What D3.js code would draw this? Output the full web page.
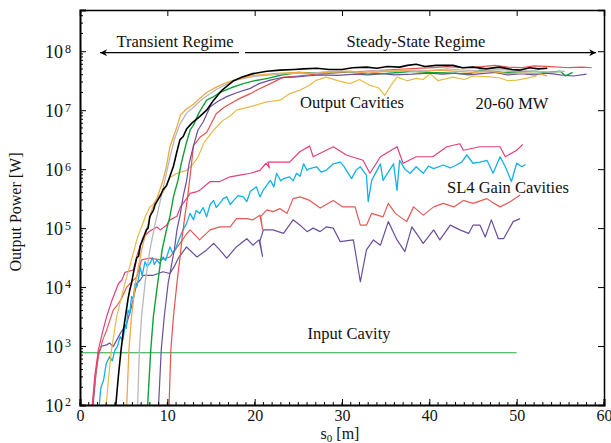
<!DOCTYPE html>
<html>
<head>
<meta charset="utf-8">
<script src="https://cdn.jsdelivr.net/npm/d3@7"></script>
<style>
  body { margin: 0; background: #fff; }
  text { font-family: "Liberation Serif", "Times New Roman", serif; fill: #111; }
</style>
</head>
<body>
<div id="chart"></div>
<script>
// values: each point is [s0 in m, log10 of power in W]
var outBlack = [[4.1,2.0],[4.4,2.5],[4.7,2.93],[5.0,3.3],[5.2,3.5],[5.5,3.8],[5.7,3.95],[5.9,4.07],[6.2,4.3],[6.5,4.5],[6.7,4.52],[6.9,4.7],[7.3,4.85],[7.6,4.97],[7.8,5.0],[8.0,5.2],[8.4,5.3],[8.6,5.4],[8.8,5.45],[9.2,5.55],[9.5,5.65],[9.9,5.72],[10.3,5.88],[10.7,6.05],[11.1,6.3],[11.45,6.5],[11.8,6.55],[12.2,6.68],[12.8,6.78],[13.7,6.89],[14.5,7.0],[15.3,7.17],[16.2,7.33],[17.6,7.5],[18.5,7.56],[19.8,7.62],[21.4,7.66],[22.9,7.68],[24.5,7.69],[25.6,7.7],[27.1,7.71],[28.5,7.69],[30,7.69],[31.2,7.72],[32.8,7.73],[34,7.71],[35.2,7.74],[36.6,7.73],[37.5,7.76],[38.5,7.78],[39.5,7.74],[40.8,7.76],[42.7,7.76],[43.8,7.72],[45,7.73],[46.5,7.7],[48,7.73],[49.5,7.69],[50.4,7.68],[51.5,7.72],[52.5,7.7],[53.5,7.71]];
var outOrange = [[5.35,2.0],[5.6,2.93],[5.9,3.5],[6.35,4.07],[7.05,4.63],[7.6,4.95],[8.2,5.3],[8.8,5.5],[9.5,5.81],[9.9,6.05],[10.3,6.38],[10.7,6.55],[11.1,6.72],[11.5,6.92],[12.2,7.02],[13.0,7.1],[13.7,7.2],[14.5,7.3],[15.6,7.39],[16.5,7.45],[17.6,7.51],[19.8,7.59],[21.5,7.61],[23,7.63],[25,7.64],[27,7.62],[29,7.65],[31,7.66],[33,7.63],[35,7.66],[37,7.67],[39,7.65],[41,7.68],[43,7.66],[45,7.64],[47,7.66],[49,7.62],[51,7.63],[52.5,7.62],[53.5,7.58]];
var outGray = [[6.6,2.0],[6.8,2.93],[7.05,3.5],[7.45,4.07],[8.0,4.63],[8.5,5.0],[9.1,5.4],[9.7,5.8],[10.3,6.2],[10.8,6.5],[11.4,6.75],[12.2,6.95],[13.0,7.05],[13.7,7.15],[14.6,7.25],[15.6,7.35],[17.6,7.5],[19.8,7.57],[22,7.6],[24,7.63],[26,7.62],[28,7.65],[30,7.66],[32,7.64],[34,7.67],[36,7.66],[38,7.68],[40,7.67],[42,7.7],[44,7.68],[46,7.66],[48,7.69],[50,7.67],[52,7.66],[54,7.64],[55.5,7.66]];
var outGreen = [[7.75,2.0],[8.1,2.93],[8.4,3.5],[8.9,4.07],[9.4,4.63],[9.9,4.97],[10.3,5.2],[10.7,5.53],[11.2,5.8],[11.6,6.1],[12.1,6.4],[12.6,6.66],[13.0,6.75],[13.6,6.95],[14.5,7.17],[15.2,7.22],[16,7.3],[17.3,7.38],[18.7,7.45],[20,7.5],[21.5,7.54],[23.2,7.6],[25,7.64],[27,7.63],[29,7.65],[30.9,7.65],[32.5,7.62],[34.7,7.62],[36.5,7.64],[38,7.66],[40,7.64],[42,7.63],[43.5,7.62],[44.7,7.62],[45.8,7.68],[47,7.66],[48.5,7.64],[50.4,7.65],[52,7.66],[53.5,7.64],[55,7.66],[55.6,7.58],[56.4,7.64]];
var outPurple = [[9.0,2.0],[9.3,2.93],[9.65,3.5],[10.1,4.07],[10.8,4.63],[11.1,4.97],[11.5,5.25],[11.8,5.53],[12.2,5.8],[12.5,6.1],[13.0,6.4],[13.5,6.66],[14.1,6.8],[14.9,7.06],[15.8,7.15],[16.8,7.23],[18,7.3],[19.5,7.37],[20.5,7.45],[21.8,7.51],[23,7.55],[24.5,7.56],[26,7.58],[27.5,7.6],[29.5,7.59],[31.5,7.61],[33,7.6],[34.7,7.62],[36,7.6],[38,7.61],[40,7.63],[41.5,7.61],[43,7.63],[44.5,7.6],[46,7.62],[47.5,7.64],[49,7.6],[50.5,7.62],[52,7.6],[53.5,7.63],[55,7.6],[56.5,7.58],[58,7.61]];
var outRed = [[10.2,2.0],[10.4,2.93],[10.7,3.5],[11.1,4.07],[11.45,4.5],[11.7,4.85],[12.0,5.2],[12.3,5.5],[12.7,6.0],[13.0,6.4],[13.8,6.55],[14.5,6.62],[15.6,6.94],[16.5,7.05],[17.2,7.11],[18.3,7.2],[19.5,7.28],[20.5,7.36],[21.8,7.45],[23.3,7.56],[25,7.58],[27,7.61],[29,7.63],[30.9,7.65],[32.5,7.66],[34,7.67],[36,7.69],[38.5,7.71],[40.5,7.72],[42,7.74],[44,7.72],[46,7.74],[47.5,7.76],[49,7.73],[50.5,7.72],[52,7.75],[54,7.74],[56,7.72],[57.5,7.73],[58.6,7.72]];
var outYellow = [[3.0,2.0],[3.3,2.5],[3.6,2.93],[4.2,3.5],[4.7,3.8],[5.15,4.07],[5.6,4.3],[6.2,4.63],[6.6,4.85],[7.0,5.0],[7.5,5.2],[8.0,5.36],[8.4,5.4],[9.0,5.55],[9.5,5.6],[10.3,5.86],[11.0,5.92],[11.5,5.95],[12.2,5.98],[12.7,6.04],[13.5,6.2],[14.2,6.45],[15.3,6.66],[16.4,6.83],[17.2,6.9],[17.9,7.0],[19.5,7.06],[21.4,7.14],[22.9,7.17],[24,7.28],[25.2,7.34],[26.2,7.42],[27.1,7.51],[28.2,7.56],[29.5,7.5],[30.9,7.45],[32,7.52],[33.2,7.42],[34.2,7.38],[34.9,7.25],[35.6,7.42],[36.3,7.56],[37.5,7.5],[38.5,7.54],[39.3,7.52],[40.1,7.62],[41,7.5],[42.7,7.56],[44,7.52],[45,7.58],[46.6,7.57],[48,7.55],[49,7.5],[50,7.51],[51.1,7.54],[52.3,7.58]];

var gainPink = [[1.4,2.0],[1.7,2.5],[2.1,2.93],[2.6,3.25],[3.05,3.5],[3.6,3.75],[4.4,4.06],[4.8,4.12],[5.15,4.25],[6.1,4.29],[6.6,4.57],[7.25,4.85],[8.0,4.95],[8.8,5.02],[9.2,4.97],[9.9,5.05],[10.3,5.14],[11.1,5.2],[11.5,5.36],[12.2,5.5],[12.6,5.59],[13.4,5.62],[13.7,5.64],[14.9,5.79],[16,5.79],[17.2,5.87],[18.3,5.9],[19.5,5.93],[20.6,5.98],[21.3,6.1],[21.7,6.02],[21.5,6.12],[22.9,6.12],[24,6.12],[25.2,6.3],[26.3,6.39],[26.7,6.21],[29,6.38],[30.5,6.24],[32.4,6.15],[33.2,5.93],[34.4,6.21],[36.3,6.38],[37,6.1],[38.5,6.21],[40.4,6.21],[42,6.38],[43.5,6.43],[43.9,6.32],[45.8,6.38],[48.1,6.38],[48.7,6.21],[50,6.32],[50.7,6.42]];
var gainCyan = [[2.2,2.0],[2.4,2.3],[2.7,2.42],[3.0,2.7],[3.4,2.82],[3.7,2.75],[4.0,2.93],[4.3,3.0],[4.6,3.16],[4.9,3.1],[5.15,3.33],[5.3,3.3],[5.5,3.61],[5.7,3.55],[5.9,3.84],[6.1,3.8],[6.3,4.06],[6.5,4.0],[6.7,4.15],[6.9,4.34],[7.1,4.2],[7.25,4.29],[7.45,4.43],[7.7,4.35],[8.0,4.4],[8.3,4.5],[8.5,4.38],[8.8,4.46],[9.1,4.4],[9.5,4.51],[9.8,4.45],[10.3,4.68],[10.6,4.58],[10.9,4.63],[11.2,4.75],[11.45,4.85],[11.8,4.97],[12.2,5.08],[12.6,5.25],[13,5.14],[13.3,5.3],[13.7,5.25],[14.1,5.35],[14.5,5.19],[14.9,5.4],[15.3,5.47],[15.6,5.35],[16,5.42],[16.4,5.5],[16.8,5.53],[17.2,5.4],[17.6,5.47],[18.1,5.55],[18.7,5.53],[19.1,5.45],[19.5,5.62],[20.2,5.7],[20.6,5.53],[21,5.65],[21.4,5.73],[21.8,5.81],[22.2,5.7],[22.5,5.93],[23,5.8],[23.3,5.84],[24,5.87],[24.4,5.8],[24.8,5.93],[25.2,5.88],[25.6,6.09],[26,5.98],[26.3,6.01],[27.1,6.04],[27.6,5.95],[28.2,5.98],[29,6.09],[29.8,6.12],[30.2,6.05],[30.5,5.98],[31.1,5.84],[31.6,5.98],[32.1,6.04],[32.8,5.9],[33,5.45],[33.4,5.81],[33.9,5.95],[34.4,6.09],[34.7,5.81],[35.3,5.95],[35.9,6.09],[36.3,5.64],[36.6,6.15],[37.2,6.0],[37.8,5.93],[38.5,6.04],[39.3,5.93],[39.9,6.05],[40.5,6.01],[41.6,6.07],[42.4,6.02],[43.1,6.07],[43.7,6.12],[44.3,6.24],[45,6.1],[45.8,6.12],[46.6,6.15],[47.3,5.93],[48.1,6.21],[48.7,6.04],[49.4,5.79],[50,6.1],[50.6,6.04],[51,6.08]];
var gainRed = [[1.45,2.0],[1.8,2.5],[2.1,2.82],[2.6,3.1],[3.05,3.27],[3.8,3.61],[4.3,3.7],[4.77,3.81],[5.35,4.0],[6.0,4.1],[6.5,4.17],[7.05,4.46],[8.0,4.49],[9.2,4.46],[10.3,4.51],[11.45,4.74],[12.2,4.9],[12.6,4.97],[13.7,4.8],[14.9,4.97],[16,5.02],[17.2,5.02],[17.9,5.16],[19.1,5.16],[19.8,5.14],[20.6,5.22],[20.9,4.98],[20.7,5.2],[21.4,5.31],[22.1,5.28],[22.9,5.33],[23.7,5.25],[24.4,5.5],[25.2,5.53],[26.3,5.47],[27.5,5.34],[29,5.47],[30.1,5.36],[31.5,5.36],[32.1,5.05],[32.8,5.05],[33.4,5.25],[34.7,5.19],[35.3,5.42],[36.1,5.25],[37.4,5.11],[38.2,5.36],[39.3,5.22],[40.5,5.36],[41.6,5.42],[42.8,5.36],[43.9,5.47],[45,5.42],[46.6,5.5],[47.2,5.44],[48.1,5.36],[49.3,5.45],[50.4,5.56]];
var gainPurple = [[1.5,2.0],[1.8,2.5],[2.1,2.88],[2.5,3.0],[3.05,3.02],[3.4,3.05],[3.8,2.99],[4.2,3.1],[4.6,3.21],[5.35,3.38],[5.9,3.67],[6.5,4.06],[6.9,4.12],[7.25,4.2],[8.4,4.2],[9.5,4.26],[10.3,4.23],[10.8,4.35],[11.25,4.49],[12.2,4.68],[13.4,4.51],[14.5,4.63],[15.3,4.74],[16,4.63],[16.8,4.49],[17.9,4.68],[19.1,4.82],[19.8,4.71],[20.5,4.8],[20.9,4.52],[20.6,4.78],[21,4.97],[22.1,4.97],[23.3,4.91],[24.4,5.14],[25.2,5.05],[26,4.94],[26.7,5.0],[27.5,4.94],[28.2,5.02],[29,5.0],[29.8,4.77],[31.3,4.8],[32.1,4.09],[32.8,4.63],[33.6,4.8],[34.4,4.71],[35.3,5.11],[36.3,4.8],[37.2,4.6],[38,5.02],[39.3,4.74],[40.5,4.97],[41.2,4.8],[42.4,5.05],[43.5,4.97],[44.5,4.91],[45,5.05],[45.8,5.05],[46.4,4.85],[47.1,5.14],[47.9,4.82],[48.5,4.82],[49.6,5.11],[50.4,5.16]];
var inputCavity = [[0,2.886],[50,2.886]];

var xTicks = [0, 10, 20, 30, 40, 50, 60];
var yDecades = [2, 3, 4, 5, 6, 7, 8];

// draw order and colours of the curves
var curves = [
  {data: inputCavity, color: "#1ea843", w: 1.2},
  {data: gainPurple, color: "#6a4e9e", w: 1.2},
  {data: gainRed, color: "#e35a56", w: 1.2},
  {data: gainCyan, color: "#14b0ea", w: 1.3},
  {data: gainPink, color: "#e33f7c", w: 1.2},
  {data: outYellow, color: "#e6bb48", w: 1.2},
  {data: outRed, color: "#e6524c", w: 1.2},
  {data: outPurple, color: "#6a4e9e", w: 1.2},
  {data: outGreen, color: "#12a03a", w: 1.4},
  {data: outGray, color: "#b9b9b9", w: 1.3},
  {data: outOrange, color: "#f1a648", w: 1.3},
  {data: outBlack, color: "#000000", w: 1.6}
];

var W = 611, H = 443;
var margin = {top: 10, right: 7, bottom: 38, left: 80};

var svg = d3.select("#chart")
  .append("svg")
    .attr("width", W)
    .attr("height", H);

var x = d3.scaleLinear()
  .domain([0, 60])
  .range([margin.left, W - margin.right]);

var y = d3.scaleLog()
  .domain([1e2, 5e8])
  .range([H - margin.bottom, margin.top]);

var x0 = x.range()[0], x1 = x.range()[1];
var yb = y.range()[0], yt = y.range()[1];

// clip the curves to the frame
svg.append("clipPath")
    .attr("id", "clip")
  .append("rect")
    .attr("x", x0)
    .attr("y", yt)
    .attr("width", x1 - x0)
    .attr("height", yb - yt);

var line = d3.line()
  .x(function(d) { return x(d[0]); })
  .y(function(d) { return y(Math.pow(10, d[1])); });

svg.append("g")
    .attr("clip-path", "url(#clip)")
  .selectAll("path")
  .data(curves)
  .enter().append("path")
    .attr("d", function(d) { return line(d.data); })
    .attr("fill", "none")
    .attr("stroke", function(d) { return d.color; })
    .attr("stroke-width", function(d) { return d.w; })
    .attr("stroke-linejoin", "round");

// minor ticks
var minorX = d3.range(0, 60.01, 1);
var minorY = [];
yDecades.forEach(function(e) {
  if (e < 8) for (var m = 2; m <= 9; m++) minorY.push(m * Math.pow(10, e));
});
minorY.push(2e8, 3e8, 4e8);

svg.append("g")
  .selectAll("line")
  .data(minorX)
  .enter().append("line")
    .attr("x1", function(d) { return x(d); })
    .attr("x2", function(d) { return x(d); })
    .attr("y1", yb)
    .attr("y2", yb - 3)
    .attr("stroke", "#000")
    .attr("stroke-width", 1);

svg.append("g")
  .selectAll("line")
  .data(minorY)
  .enter().append("line")
    .attr("x1", x0)
    .attr("x2", x0 + 3)
    .attr("y1", function(d) { return y(d); })
    .attr("y2", function(d) { return y(d); })
    .attr("stroke", "#000")
    .attr("stroke-width", 1);

// bottom axis
var xAxis = svg.append("g")
  .attr("transform", "translate(0," + yb + ")")
  .call(d3.axisBottom(x).tickValues(xTicks).tickSize(-6).tickPadding(5).tickFormat(d3.format("d")));
xAxis.select(".domain").attr("stroke-width", 2);
xAxis.selectAll(".tick text")
  .attr("font-size", "16px")
  .attr("font-family", "Liberation Serif, serif")
  .attr("fill", "#111");

// top ticks
svg.append("g")
  .attr("transform", "translate(0," + yt + ")")
  .call(d3.axisTop(x).tickValues(xTicks).tickSize(-6).tickFormat(""))
  .select(".domain").attr("stroke-width", 1.5);

// left axis with 10^n labels
var yAxis = svg.append("g")
  .attr("transform", "translate(" + x0 + ",0)")
  .call(d3.axisLeft(y).tickValues(yDecades.map(function(e) { return Math.pow(10, e); }))
    .tickSize(-6).tickPadding(8).tickFormat(""));
yAxis.select(".domain").attr("stroke-width", 2);
yAxis.selectAll(".tick").each(function(d) {
  var t = d3.select(this).append("text")
    .attr("x", -9)
    .attr("dy", "0.35em")
    .attr("text-anchor", "end")
    .attr("font-size", "18px")
    .attr("font-family", "Liberation Serif, serif")
    .attr("fill", "#111");
  t.append("tspan").text("10");
  t.append("tspan")
    .attr("dx", 2)
    .attr("dy", "-0.45em")
    .attr("font-size", "12px")
    .text(Math.round(Math.log10(d)));
});

// right ticks
svg.append("g")
  .attr("transform", "translate(" + x1 + ",0)")
  .call(d3.axisRight(y).tickValues(yDecades.map(function(e) { return Math.pow(10, e); }))
    .tickSize(-6).tickFormat(""))
  .select(".domain").attr("stroke-width", 1.5);

// axis titles
svg.append("text")
  .attr("transform", "translate(21,212) rotate(-90)")
  .attr("text-anchor", "middle")
  .attr("font-size", "16px")
  .text("Output Power [W]");

var xt = svg.append("text")
  .attr("x", x(30) - 2)
  .attr("y", 439)
  .attr("text-anchor", "middle")
  .attr("font-size", "16px");
xt.append("tspan").text("s");
xt.append("tspan").attr("dy", 3).attr("font-size", "11px").text("0");
xt.append("tspan").attr("dy", -3).text(" [m]");

// regime arrows
svg.append("defs").append("marker")
    .attr("id", "head")
    .attr("viewBox", "0 0 10 10")
    .attr("refX", 10)
    .attr("refY", 5)
    .attr("markerWidth", 9)
    .attr("markerHeight", 7)
    .attr("markerUnits", "userSpaceOnUse")
    .attr("orient", "auto")
  .append("path")
    .attr("d", "M0,0L10,5L0,10L3,5Z")
    .attr("fill", "#000");

var arrowY = y(1e8) + 1.5;
svg.append("line")
  .attr("x1", x(18.2)).attr("x2", x(2.3))
  .attr("y1", arrowY).attr("y2", arrowY)
  .attr("stroke", "#000").attr("stroke-width", 1.2)
  .attr("marker-end", "url(#head)");
svg.append("line")
  .attr("x1", x(18.9)).attr("x2", x(59.1))
  .attr("y1", arrowY).attr("y2", arrowY)
  .attr("stroke", "#000").attr("stroke-width", 1.2)
  .attr("marker-end", "url(#head)");

// annotations
var notes = [
  {t: "Transient Regime", x: 175, y: 47},
  {t: "Steady-State Regime", x: 416, y: 47},
  {t: "Output Cavities", x: 352, y: 108},
  {t: "20-60 MW", x: 512, y: 109},
  {t: "SL4 Gain Cavities", x: 508, y: 193},
  {t: "Input Cavity", x: 349, y: 339}
];
svg.selectAll(".note")
  .data(notes)
  .enter().append("text")
    .attr("class", "note")
    .attr("x", function(d) { return d.x; })
    .attr("y", function(d) { return d.y; })
    .attr("text-anchor", "middle")
    .attr("font-size", "16.5px")
    .text(function(d) { return d.t; });
</script>
</body>
</html>
